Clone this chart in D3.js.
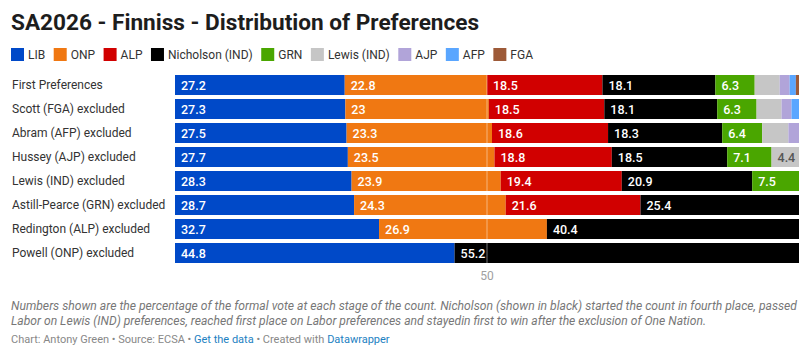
<!DOCTYPE html>
<html>
<head>
<meta charset="utf-8">
<script src="https://cdn.jsdelivr.net/npm/d3@7"></script>
<style>
  body { margin: 0; background: #fff; font-family: Roboto, "Noto Sans", sans-serif; }
  svg { display: block; }
</style>
</head>
<body>
<svg id="chart" width="810" height="360"></svg>
<script>
const stages = [
  "First Preferences",
  "Scott (FGA) excluded",
  "Abram (AFP) excluded",
  "Hussey (AJP) excluded",
  "Lewis (IND) excluded",
  "Astill-Pearce (GRN) excluded",
  "Redington (ALP) excluded",
  "Powell (ONP) excluded"
];
const parties = ["LIB", "ONP", "ALP", "Nicholson (IND)", "GRN", "Lewis (IND)", "AJP", "AFP", "FGA"];
const colors = ["#0049c8", "#f07812", "#d10000", "#000000", "#4aa600", "#c6c6c6", "#b1a4d9", "#5aa6ff", "#9d5a38"];
// values per party, one per stage (0 = excluded)
const LIB = [27.2, 27.3, 27.5, 27.7, 28.3, 28.7, 32.7, 44.8];
const ONP = [22.8, 23.0, 23.3, 23.5, 23.9, 24.3, 26.9, 0];
const ALP = [18.5, 18.5, 18.6, 18.8, 19.4, 21.6, 0, 0];
const NICHOLSON = [18.1, 18.1, 18.3, 18.5, 20.9, 25.4, 40.4, 55.2];
const GRN = [6.3, 6.3, 6.4, 7.1, 7.5, 0, 0, 0];
const LEWIS = [4.0, 4.0, 4.2, 4.4, 0, 0, 0, 0];
const AJP = [1.6, 1.6, 1.7, 0, 0, 0, 0, 0];
const AFP = [1.0, 1.2, 0, 0, 0, 0, 0, 0];
const FGA = [0.5, 0, 0, 0, 0, 0, 0, 0];
const series = [LIB, ONP, ALP, NICHOLSON, GRN, LEWIS, AJP, AFP, FGA];
const xTicks = [50];

const svg = d3.select("#chart");

// Title
svg.append("text").attr("x", 11).attr("y", 30)
  .attr("font-size", 22.6).attr("font-weight", 700).attr("fill", "#1d1d1d")
  .text("SA2026 - Finniss - Distribution of Preferences");

// Legend
let lx = 11;
parties.forEach((p, i) => {
  const g = svg.append("g").attr("transform", `translate(${lx},48)`);
  g.append("rect").attr("width", 13).attr("height", 13).attr("fill", colors[i]);
  const t = g.append("text").attr("x", 17).attr("y", 11).attr("font-size", 12).attr("fill", "#333").text(p);
  lx += 17 + t.node().getComputedTextLength() + 8.5;
});

// Scales
const x = d3.scaleLinear().domain([0, 100]).range([175, 799]);
const y = d3.scaleBand().domain(stages).range([73, 265]).paddingInner(4 / 24).paddingOuter(2 / 24);

// Row labels
svg.append("g").selectAll("text").data(stages).join("text")
  .attr("x", 12).attr("y", d => y(d) + y.bandwidth() / 2).attr("dy", "0.35em")
  .attr("font-size", 12).attr("fill", "#333").text(d => d);

// Bars
const rows = stages.map((s, si) => {
  let acc = 0;
  return series.map((ser, pi) => {
    const v = ser[si];
    const seg = { stage: s, party: pi, v, x0: acc, x1: acc + v };
    acc += v;
    return seg;
  }).filter(d => d.v > 0);
}).flat();

svg.append("g").selectAll("rect").data(rows).join("rect")
  .attr("x", d => x(d.x0)).attr("y", d => y(d.stage))
  .attr("width", d => x(d.x1) - x(d.x0)).attr("height", y.bandwidth())
  .attr("fill", d => colors[d.party]);

// 50 line
svg.append("g").selectAll("line").data(xTicks).join("line")
  .attr("x1", d => x(d)).attr("x2", d => x(d))
  .attr("y1", y(stages[0])).attr("y2", y(stages[stages.length - 1]) + y.bandwidth())
  .attr("stroke", "#ffffff").attr("stroke-opacity", 0.45).attr("stroke-width", 1);
svg.append("g").selectAll("text").data(xTicks).join("text")
  .attr("x", d => x(d)).attr("y", 280).attr("text-anchor", "middle")
  .attr("font-size", 12).attr("fill", "#a0a0a0").text(d => d);

// Value labels
svg.append("g").selectAll("text").data(rows.filter(d => d.v >= 4.3)).join("text")
  .attr("x", d => x(d.x0) + 6).attr("y", d => y(d.stage) + y.bandwidth() / 2).attr("dy", "0.36em")
  .attr("font-size", 12.5).attr("font-weight", 500)
  .attr("fill", d => d.party === 5 ? "#555" : "#fff")
  .text(d => d.v);

// Notes
const notes = [
  "Numbers shown are the percentage of the formal vote at each stage of the count. Nicholson (shown in black) started the count in fourth place, passed",
  "Labor on Lewis (IND) preferences, reached first place on Labor preferences and stayedin first to win after the exclusion of One Nation."
];
svg.append("g").selectAll("text").data(notes).join("text")
  .attr("x", 11).attr("y", (d, i) => 310 + i * 15)
  .attr("font-size", 12).attr("font-style", "italic").attr("fill", "#777")
  .attr("textLength", (d, i) => i === 0 ? 786 : 695)
  .attr("lengthAdjust", "spacingAndGlyphs")
  .text(d => d);

const src = svg.append("text").attr("x", 11).attr("y", 343).attr("font-size", 11).attr("fill", "#888");
src.append("tspan").text("Chart: Antony Green • Source: ECSA • ");
src.append("tspan").attr("fill", "#1d81c2").text("Get the data");
src.append("tspan").text(" • Created with ");
src.append("tspan").attr("fill", "#1d81c2").text("Datawrapper");
</script>
</body>
</html>
